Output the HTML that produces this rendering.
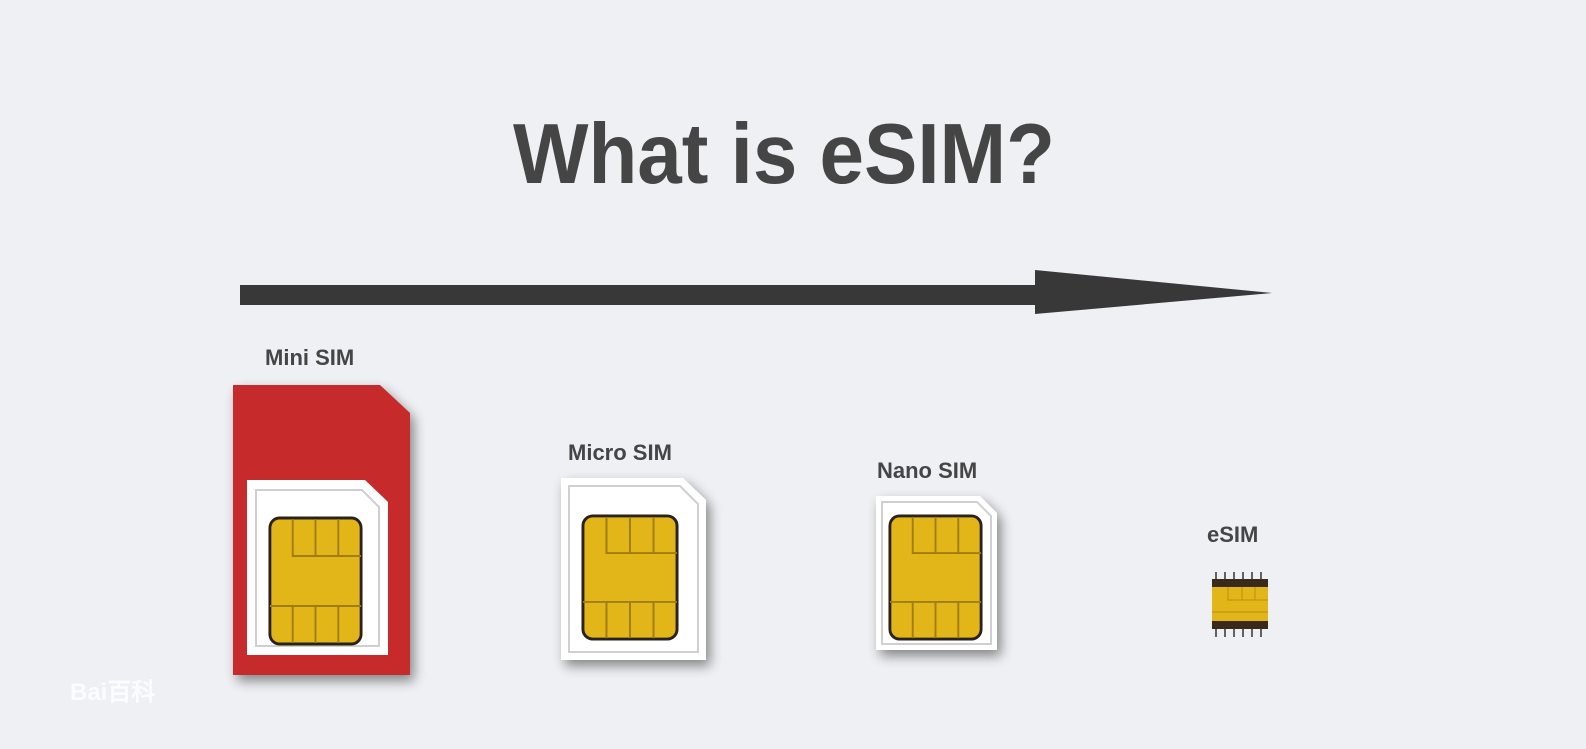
<!DOCTYPE html>
<html><head><meta charset="utf-8"><style>
html,body{margin:0;padding:0;background:#eff0f4;}
svg{display:block}
text{font-family:"Liberation Sans",Arial,sans-serif;font-weight:bold;fill:#454545}
</style></head><body>
<svg width="1586" height="749" viewBox="0 0 1586 749" xmlns="http://www.w3.org/2000/svg">
<defs>
<filter id="sh" x="-30%" y="-30%" width="160%" height="160%"><feGaussianBlur in="SourceAlpha" stdDeviation="6"/><feOffset dx="4" dy="6"/><feComponentTransfer><feFuncA type="linear" slope="0.45"/></feComponentTransfer><feMerge><feMergeNode/><feMergeNode in="SourceGraphic"/></feMerge></filter>
<symbol id="chip" viewBox="0 0 100 130" preserveAspectRatio="none">
<rect x="2" y="2" width="96" height="126" rx="10" fill="#e2b518" stroke="#2a2218" stroke-width="3"/>
<g stroke="#a07d10" stroke-width="2" fill="none">
<path d="M26 3 V40 H98"/><path d="M50 3 V40 M74 3 V40"/>
<path d="M2 90 H98 M26 90 V127 M50 90 V127 M74 90 V127"/>
</g>
</symbol>
</defs>
<rect width="1586" height="749" fill="#eff0f4"/>
<text x="513" y="183" font-size="85" textLength="542" lengthAdjust="spacingAndGlyphs" fill="#4a4a4a">What is eSIM?</text>
<rect x="240" y="285" width="810" height="20" fill="#383838"/>
<polygon points="1035,270 1272,293 1035,314" fill="#383838"/>
<text x="265" y="365" font-size="22">Mini SIM</text>
<text x="568" y="460" font-size="22">Micro SIM</text>
<text x="877" y="478" font-size="22">Nano SIM</text>
<text x="1207" y="542" font-size="22">eSIM</text>
<!-- Mini SIM -->
<g filter="url(#sh)">
<path d="M233 385 H380 L410 413 V675 H233 Z" fill="#c62a2a"/>
</g>
<path d="M247 480 H365 L388 502 V655 H247 Z" fill="#ffffff"/>
<path d="M256 490 H362 L379 507 V646 H256 Z" fill="none" stroke="#cfcfd2" stroke-width="2"/>
<use href="#chip" x="268" y="516" width="95" height="130"/>
<!-- Micro SIM -->
<g filter="url(#sh)">
<path d="M561 478 H683 L706 500 V660 H561 Z" fill="#ffffff"/>
</g>
<path d="M569 486 H680 L698 504 V652 H569 Z" fill="none" stroke="#d0d0d3" stroke-width="2"/>
<use href="#chip" x="581" y="514" width="98" height="127"/>
<!-- Nano SIM -->
<g filter="url(#sh)">
<path d="M876 496 H980 L997 513 V650 H876 Z" fill="#ffffff"/>
</g>
<path d="M882 502 H977 L991 516 V644 H882 Z" fill="none" stroke="#d0d0d3" stroke-width="2"/>
<use href="#chip" x="888" y="514" width="95" height="127"/>
<!-- eSIM -->
<g stroke="#333" stroke-width="1.5">
<path d="M1216 572 V580 M1225 572 V580 M1234 572 V580 M1243 572 V580 M1252 572 V580 M1261 572 V580 M1216 628 V637 M1225 628 V637 M1234 628 V637 M1243 628 V637 M1252 628 V637 M1261 628 V637"/>
</g>
<rect x="1212" y="579" width="56" height="8" fill="#3a2a1a"/>
<rect x="1212" y="587" width="56" height="34" fill="#e2b518"/>
<path d="M1228 587 V600 H1268 M1242 587 V600 M1255 587 V600 M1212 612 H1268" stroke="#b8900f" stroke-width="1" fill="none"/>
<rect x="1212" y="621" width="56" height="8" fill="#3a2a1a"/>
<text x="70" y="700" font-size="24" fill="#ffffff" style="fill:#ffffff;opacity:0.8">Bai百科</text>
</svg>
</body></html>
